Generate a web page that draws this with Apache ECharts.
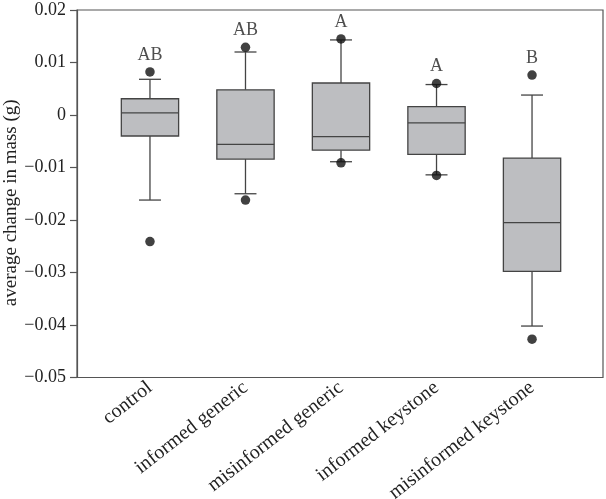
<!DOCTYPE html>
<html>
<head>
<meta charset="utf-8">
<script src="https://cdn.jsdelivr.net/npm/echarts@6/dist/echarts.min.js"></script>
<style>html,body{margin:0;padding:0;background:#fff;}#c{width:606px;height:499px;}</style>
</head>
<body>
<div id="c"></div>
<script>
const categories = ['control', 'informed generic', 'misinformed generic', 'informed keystone', 'misinformed keystone'];
const whiskerLow  = [-0.0162, -0.0150, -0.0089, -0.0114, -0.0402];
const q1          = [-0.0040, -0.0084, -0.0067, -0.0075, -0.0298];
const median      = [ 0.0004, -0.0056, -0.0041, -0.0015, -0.0205];
const q3          = [ 0.0031,  0.0048,  0.0061,  0.0016, -0.0082];
const whiskerHigh = [ 0.0068,  0.0120,  0.0143,  0.0058,  0.0038];
const outlierHigh = [ 0.0082,  0.0129,  0.0145,  0.0060,  0.0076];
const outlierLow  = [-0.0241, -0.0162, -0.0091, -0.0115, -0.0427];
const groupLetters = ['AB', 'AB', 'A', 'A', 'B'];
const yTicks = [-0.05, -0.04, -0.03, -0.02, -0.01, 0, 0.01, 0.02];

const FONT = 'Liberation Serif';
const boxData = categories.map((c, i) => [i, whiskerLow[i], q1[i], median[i], q3[i], whiskerHigh[i]]);
const dotData = [];
categories.forEach((c, i) => { dotData.push([i, outlierHigh[i]]); dotData.push([i, outlierLow[i]]); });
const letterData = categories.map((c, i) => [i, outlierHigh[i], groupLetters[i]]);

const chart = echarts.init(document.getElementById('c'));
chart.setOption({
  animation: false,
  backgroundColor: '#fff',
  grid: { left: 77, right: 3, top: 10, bottom: 121.5, show: true, borderColor: '#555', borderWidth: 1.2, backgroundColor: 'transparent', containLabel: false, outerBoundsMode: 'none' },
  xAxis: {
    type: 'value', min: -0.764, max: 4.743,
    splitLine: { show: false },
    axisLine: { show: false, onZero: false },
    axisTick: { show: false },
    axisLabel: {
      customValues: [0, 1, 2, 3, 4],
      formatter: v => categories[Math.round(v)],
      rotate: 38, margin: 8,
      fontFamily: FONT, fontSize: 20, color: '#222'
    }
  },
  yAxis: {
    type: 'value', min: yTicks[0], max: yTicks[yTicks.length - 1], interval: 0.01,
    splitLine: { show: false },
    axisLine: { show: true, onZero: false, lineStyle: { color: '#555', width: 1.2 } },
    axisTick: { show: true, inside: false, length: 7, lineStyle: { color: '#555', width: 1.2 } },
    axisLabel: {
      margin: 11, fontFamily: FONT, fontSize: 18, color: '#222',
      formatter: v => Math.abs(v) < 1e-9 ? '0' : (v < 0 ? '\u2212' + Math.abs(v).toFixed(2) : v.toFixed(2))
    },
    name: 'average change in mass (g)',
    nameLocation: 'middle', nameRotate: 90, nameGap: 56, nameMoveOverlap: false,
    nameTextStyle: { fontFamily: FONT, fontSize: 19, color: '#222', padding: [0, 18, 0, 0] }
  },
  series: [
    {
      type: 'custom',
      data: boxData,
      encode: { x: 0, y: [1, 2, 3, 4, 5] },
      z: 2,
      renderItem: function (params, api) {
        const x = api.value(0);
        const lo = api.coord([x, api.value(1)]);
        const b1 = api.coord([x, api.value(2)]);
        const md = api.coord([x, api.value(3)]);
        const b3 = api.coord([x, api.value(4)]);
        const hi = api.coord([x, api.value(5)]);
        const w = api.size([0.6, 0])[0];
        const cw = api.size([0.23, 0])[0];
        const ls = { stroke: '#444', lineWidth: 1.3, fill: null };
        return {
          type: 'group',
          children: [
            { type: 'line', shape: { x1: lo[0], y1: lo[1], x2: b1[0], y2: b1[1] }, style: ls },
            { type: 'line', shape: { x1: hi[0], y1: hi[1], x2: b3[0], y2: b3[1] }, style: ls },
            { type: 'line', shape: { x1: lo[0] - cw / 2, y1: lo[1], x2: lo[0] + cw / 2, y2: lo[1] }, style: ls },
            { type: 'line', shape: { x1: hi[0] - cw / 2, y1: hi[1], x2: hi[0] + cw / 2, y2: hi[1] }, style: ls },
            { type: 'rect', shape: { x: b3[0] - w / 2, y: b3[1], width: w, height: b1[1] - b3[1] }, style: { fill: '#bdbec1', stroke: '#444', lineWidth: 1.3 } },
            { type: 'line', shape: { x1: md[0] - w / 2, y1: md[1], x2: md[0] + w / 2, y2: md[1] }, style: ls }
          ]
        };
      }
    },
    {
      type: 'scatter',
      data: dotData,
      symbol: 'circle', symbolSize: 9.5,
      itemStyle: { color: '#111' },
      z: 3
    },
    {
      type: 'scatter',
      data: letterData,
      symbol: 'circle', symbolSize: 9.5,
      itemStyle: { color: 'transparent' },
      label: {
        show: true, position: 'top', distance: 3,
        formatter: p => p.data[2],
        fontFamily: FONT, fontSize: 18, color: '#222'
      },
      z: 4
    }
  ]
});
</script>
</body>
</html>
